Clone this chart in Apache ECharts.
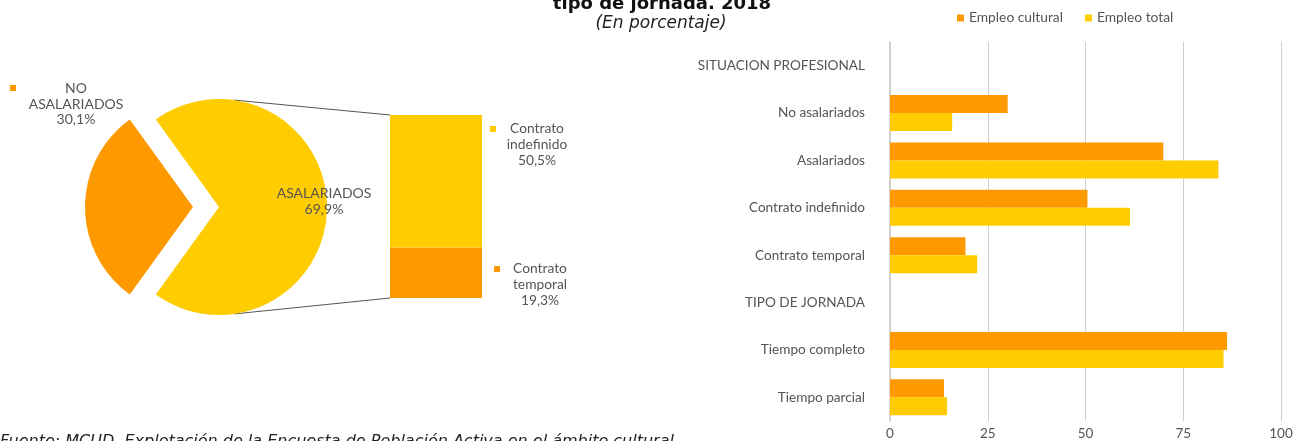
<!DOCTYPE html>
<html>
<head>
<meta charset="utf-8">
<script src="https://cdn.jsdelivr.net/npm/echarts@6/dist/echarts.min.js"></script>
<style>
  html, body { margin: 0; padding: 0; background: #fff; }
  #main { width: 1302px; height: 441px; }
</style>
</head>
<body>
<div id="main"></div>
<script>
  // datos
  var pieNames = ['NO\nASALARIADOS', 'ASALARIADOS'];
  var pieValues = [30.1, 69.9];
  var splitNames = ['Contrato\ntemporal', 'Contrato\nindefinido'];
  var splitValues = [19.3, 50.5];
  var barCategories = ['SITUACION PROFESIONAL', 'No asalariados', 'Asalariados', 'Contrato indefinido',
    'Contrato temporal', 'TIPO DE JORNADA', 'Tiempo completo', 'Tiempo parcial'];
  var culturalValues = [null, 30.1, 69.9, 50.5, 19.3, null, 86.2, 13.8];
  var totalValues = [null, 15.9, 84.0, 61.4, 22.3, null, 85.3, 14.6];
  var seriesNames = ['Empleo cultural', 'Empleo total'];

  var ORANGE = '#FF9900', YELLOW = '#FFCC00', TXT = '#555555';
  var FONT = 'Lato';
  var TITLE_FONT = '"DejaVu Sans"';
  var pieCenter = [219, 207], pieRadius = 108;
  var splitBox = {left: 390, top: 115, width: 92, height: 183};

  function pct(v) { return String(v).replace('.', ',') + '%'; }

  var myChart = echarts.init(document.getElementById('main'));

  var option = {
    animation: false,
    textStyle: {fontFamily: FONT},
    legend: {
      top: 6, left: 952, itemWidth: 7, itemHeight: 7, itemGap: 22, icon: 'rect',
      data: seriesNames,
      textStyle: {color: TXT, fontSize: 13.8, fontFamily: FONT}
    },
    grid: [
      {left: 890, right: 21, top: 42, bottom: 15},
      splitBox
    ],
    xAxis: [
      {
        type: 'value', gridIndex: 0, min: 0, max: 100, interval: 25,
        axisLine: {show: false}, axisTick: {show: false},
        splitLine: {lineStyle: {color: '#cfcfcf', width: 1}},
        axisLabel: {color: TXT, fontSize: 13.5, margin: 6, fontFamily: FONT}
      },
      {type: 'category', gridIndex: 1, data: [''], show: false}
    ],
    yAxis: [
      {
        type: 'category', gridIndex: 0, inverse: true, data: barCategories,
        axisLine: {lineStyle: {color: '#c8c8c8', width: 1.5}}, axisTick: {show: false},
        axisLabel: {color: TXT, fontSize: 13.6, margin: 25, fontFamily: FONT}
      },
      {type: 'value', gridIndex: 1, min: 0, max: splitValues[0] + splitValues[1], show: false}
    ],
    series: [
      {
        name: seriesNames[0], type: 'bar', xAxisIndex: 0, yAxisIndex: 0,
        barWidth: 18, barGap: '0%', itemStyle: {color: ORANGE}, data: culturalValues
      },
      {
        name: seriesNames[1], type: 'bar', xAxisIndex: 0, yAxisIndex: 0,
        barWidth: 18, barGap: '0%', itemStyle: {color: YELLOW}, data: totalValues
      },
      {
        type: 'pie', center: pieCenter, radius: pieRadius,
        startAngle: 180 + pieValues[0] * 1.8, clockwise: true,
        selectedMode: 'single', selectedOffset: 26,
        label: {
          show: true, position: 'outside', color: TXT, fontSize: 14, lineHeight: 16, align: 'center',
          fontFamily: FONT, overflow: 'none',
          formatter: function (p) { return p.dataIndex === 0 ? '' : p.name + '\n' + pct(p.value); }
        },
        labelLine: {show: false},
        labelLayout: {x: 324, y: 201, align: 'center', verticalAlign: 'middle'},
        emphasis: {disabled: true},
        data: [
          {name: pieNames[0], value: pieValues[0], selected: true, itemStyle: {color: ORANGE}},
          {name: pieNames[1], value: pieValues[1], itemStyle: {color: YELLOW}}
        ]
      },
      {
        type: 'bar', xAxisIndex: 1, yAxisIndex: 1, stack: 'split', barWidth: '100%',
        itemStyle: {color: ORANGE},
        label: {show: true, position: 'right', color: TXT, fontSize: 13.8, lineHeight: 16, align: 'center',
          fontFamily: FONT,
          formatter: function (p) { return splitNames[0] + '\n' + pct(splitValues[0]); }},
        labelLayout: {x: 540, y: 285, align: 'center', verticalAlign: 'middle'},
        data: [splitValues[0]]
      },
      {
        type: 'bar', xAxisIndex: 1, yAxisIndex: 1, stack: 'split', barWidth: '100%',
        itemStyle: {color: YELLOW},
        label: {show: true, position: 'right', color: TXT, fontSize: 13.8, lineHeight: 16, align: 'center',
          fontFamily: FONT,
          formatter: function (p) { return splitNames[1] + '\n' + pct(splitValues[1]); }},
        labelLayout: {x: 537, y: 145, align: 'center', verticalAlign: 'middle'},
        data: [splitValues[1]]
      }
    ]
  };

  myChart.setOption(option);

  // lineas de conexion, marcadores y textos
  var yTop = myChart.convertToPixel({yAxisIndex: 1}, splitValues[0] + splitValues[1]);
  var yBot = myChart.convertToPixel({yAxisIndex: 1}, 0);
  var a = 82 * Math.PI / 180;
  var px = pieCenter[0] + pieRadius * Math.cos(a);
  var pyT = pieCenter[1] - pieRadius * Math.sin(a);
  var pyB = pieCenter[1] + pieRadius * Math.sin(a);

  myChart.setOption({
    graphic: [
      {type: 'line', shape: {x1: px, y1: pyT, x2: splitBox.left, y2: yTop}, style: {stroke: '#555', lineWidth: 1}},
      {type: 'line', shape: {x1: px, y1: pyB, x2: splitBox.left, y2: yBot}, style: {stroke: '#555', lineWidth: 1}},
      {type: 'rect', shape: {x: 10, y: 85, width: 6, height: 6}, style: {fill: ORANGE}},
      {type: 'rect', shape: {x: 490, y: 126, width: 6, height: 6}, style: {fill: YELLOW}},
      {type: 'rect', shape: {x: 494, y: 266, width: 6, height: 6}, style: {fill: ORANGE}},
      {type: 'text', x: 76, y: 104, style: {text: pieNames[0] + '\n' + pct(pieValues[0]), fill: TXT,
        font: '14px ' + FONT, lineHeight: 15.5, textAlign: 'center', textVerticalAlign: 'middle'}},
      {type: 'text', x: 662, y: 4, style: {text: 'tipo de jornada. 2018', fill: '#111', font: 'bold 18px ' + TITLE_FONT,
        textAlign: 'center', textVerticalAlign: 'middle'}},
      {type: 'text', x: 661, y: 24, style: {text: '(En porcentaje)', fill: '#222', font: 'italic 17px ' + TITLE_FONT,
        textAlign: 'center', textVerticalAlign: 'middle'}},
      {type: 'text', x: 0, y: 442, style: {text: 'Fuente: MCUD. Explotación de la Encuesta de Población Activa en el ámbito cultural.',
        fill: '#222', font: 'italic 16px ' + TITLE_FONT, textAlign: 'left', textVerticalAlign: 'middle'}}
    ]
  });

  window.addEventListener('resize', () => myChart.resize());
</script>
</body>
</html>
